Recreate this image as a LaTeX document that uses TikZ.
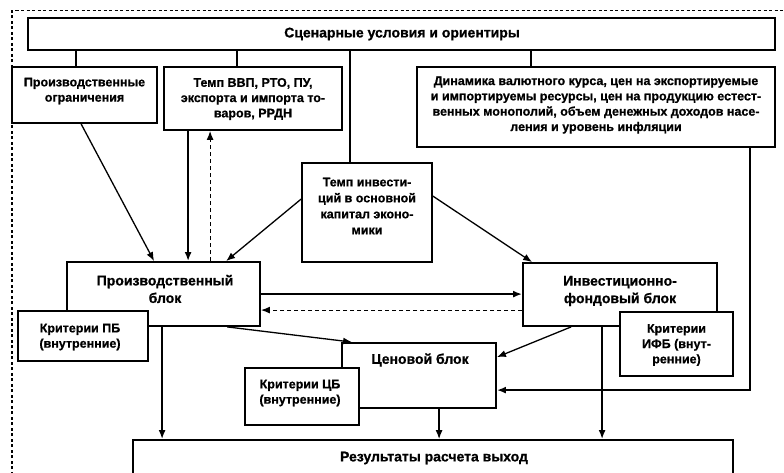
\documentclass[tikz,border=0pt]{standalone}
\usepackage{fontspec}
\setmainfont{Liberation Sans}[FakeBold=0.8]
\usetikzlibrary{arrows.meta}
\begin{document}
\begin{tikzpicture}[x=1pt,y=-1pt,
  box/.style={draw, line width=1.8pt, fill=white, inner sep=0pt},
  txt/.style={align=center, inner sep=0pt, font=\bfseries\fontsize{12.5}{15.3}\selectfont},
  big/.style={align=center, inner sep=0pt, font=\bfseries\fontsize{14}{17.5}\selectfont},
  arr/.style={line width=1.9pt, -{Latex[length=9pt,width=7pt]}},
  thinarr/.style={line width=1.3pt, -{Latex[length=9pt,width=7pt]}},
  ln/.style={line width=1.6pt},
  darr/.style={line width=1.2pt, dash pattern=on 4pt off 3pt, -{Latex[length=9pt,width=7pt]}},
  frame/.style={line width=1.5pt, dash pattern=on 3pt off 2.5pt},
]
\useasboundingbox (0,0) rectangle (784,472);
\clip (0,0) rectangle (784,472);

% outer dashed frame
\draw[frame] (12,480) -- (12,10.5) -- (790,10.5);

% boxes
\node[box, minimum width=747pt, minimum height=32pt] (top) at (401.5,34) {};
\node[box, minimum width=145pt, minimum height=56pt] (prodlim) at (84.5,95) {};
\node[box, minimum width=178pt, minimum height=63pt] (vvp) at (253,98.5) {};
\node[box, minimum width=358pt, minimum height=80pt] (dyn) at (596,107) {};
\node[box, minimum width=130pt, minimum height=99pt] (inv) at (367,212.5) {};
\node[box, minimum width=193pt, minimum height=64pt] (pb) at (163.5,294) {};
\node[box, minimum width=130pt, minimum height=50pt] (pbk) at (83,336) {};
\node[box, minimum width=194pt, minimum height=63pt] (ifb) at (620,294.5) {};
\node[box, minimum width=113pt, minimum height=64pt] (ifbk) at (676.5,344) {};
\node[box, minimum width=154pt, minimum height=65pt] (cb) at (419,375.5) {};
\node[box, minimum width=114pt, minimum height=57pt] (cbk) at (302,396.5) {};
\node[box, minimum width=600pt, minimum height=50pt] (res) at (433,465) {};

% texts
\node[big] (topt) at (402,34) {Сценарные условия и ориентиры};
\node[txt] (prodlimt) at (84.5,91) {Производственные\\ограничения};
\node[txt] (vvpt) at (253,99) {Темп ВВП, РТО, ПУ,\\экспорта и импорта то-\\варов, РРДН};
\node[txt] (dynt) at (596,105) {Динамика валютного курса, цен на экспортируемые\\и импортируемы ресурсы, цен на продукцию естест-\\венных монополий, объем денежных доходов насе-\\ления и уровень инфляции};
\node[txt, font=\bfseries\fontsize{12.5}{16}\selectfont] (invt) at (367,206) {Темп инвести-\\ций в основной\\капитал эконо-\\мики};
\node[big] (pbt) at (165,289) {Производственный\\блок};
\node[big] (ifbt) at (620,291) {Инвестиционно-\\фондовый блок};
\node[txt] (pbkt) at (80,337) {Критерии ПБ\\(внутренние)};
\node[txt] (ifbkt) at (676.5,345) {Критерии\\ИФБ (внут-\\ренние)};
\node[big] (cbt) at (420,360) {Ценовой блок};
\node[txt] (cbkt) at (300,393) {Критерии ЦБ\\(внутренние)};
\node[big] (rest) at (434,458) {Результаты расчета выход};

% connectors from the top box
\draw[ln] ([xshift=49pt]top.south west) -- ([xshift=65pt]prodlim.north west);
\draw[ln] ([xshift=210pt]top.south west) -- ([xshift=74pt]vvp.north west);
\draw[ln] ([xshift=323pt]top.south west) -- ([xshift=49pt]inv.north west);
\draw[ln] ([xshift=504pt]top.south west) -- ([xshift=115pt]dyn.north west);

% arrows
\draw[thinarr] ([xshift=70pt]prodlim.south west) -- ([xshift=88pt]pb.north west);
\draw[arr] ([xshift=25pt]vvp.south west) -- ([xshift=122pt]pb.north west);
\draw[darr] ([xshift=144pt]pb.north west) -- ([xshift=47pt]vvp.south west);
\draw[thinarr] ([yshift=-37pt]inv.north west) -- ([xshift=160pt]pb.north west);
\draw[thinarr] ([yshift=-34pt]inv.north east) -- ([xshift=10pt]ifb.north west);
\draw[arr] ([yshift=-33pt]pb.north east) -- ([yshift=-32pt]ifb.north west);
\draw[darr] ([yshift=-48pt]ifb.north west) -- ([yshift=-49pt]pb.north east);
\draw[thinarr] ([xshift=161pt]pb.south west) -- ([xshift=11pt]cb.north west);
\draw[thinarr] ([xshift=49pt]ifb.south west) -- ([yshift=-15pt]cb.north east);
\draw[arr] ([xshift=-26pt]dyn.south east) |- ([yshift=-48pt]cb.north east);
\draw[arr] ([xshift=96pt]pb.south west) -- ([xshift=30pt]res.north west);
\draw[thinarr] ([xshift=98pt]cb.south west) -- ([xshift=307pt]res.north west);
\draw[arr] ([xshift=80pt]ifb.south west) -- ([xshift=470pt]res.north west);
\end{tikzpicture}
\end{document}
